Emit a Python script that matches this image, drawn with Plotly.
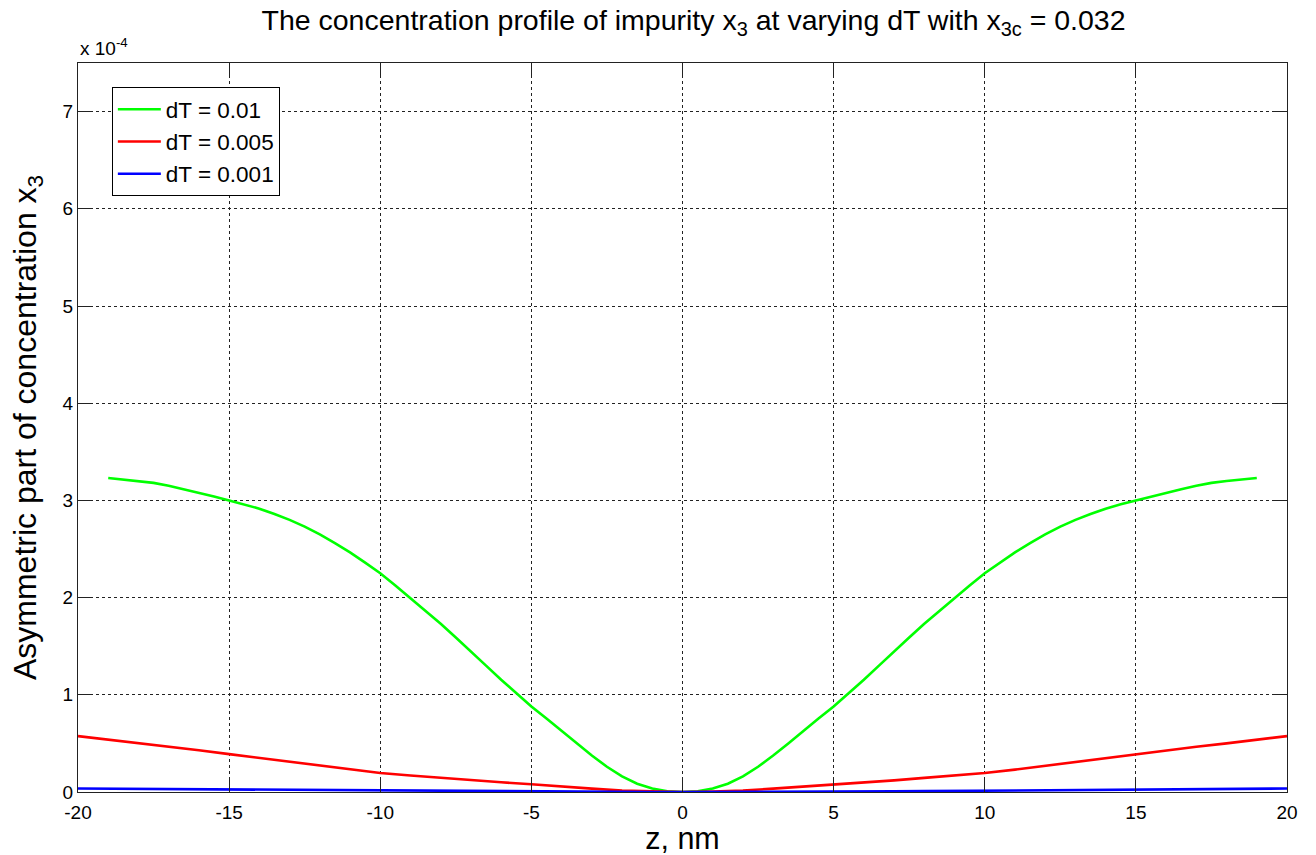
import plotly.graph_objects as go

# Positions along the film, nm (finer sampling for the dT = 0.01 profile)
z_green = [-19, -18.5, -18, -17.5, -17, -16.5, -16, -15.5, -15, -14.5, -14, -13.5, -13, -12.5,
           -12, -11.5, -11, -10.5, -10, -9.5, -9, -8.5, -8, -7.5, -7, -6.5, -6, -5.5, -5, -4.5,
           -4, -3.5, -3, -2.5, -2, -1.5, -1, -0.5, 0, 0.5, 1, 1.5, 2, 2.5, 3, 3.5, 4, 4.5, 5,
           5.5, 6, 6.5, 7, 7.5, 8, 8.5, 9, 9.5, 10, 10.5, 11, 11.5, 12, 12.5, 13, 13.5, 14, 14.5,
           15, 15.5, 16, 16.5, 17, 17.5, 18, 18.5, 19]
z_full = [-20, -19, -18, -17, -16, -15, -14, -13, -12, -11, -10, -9, -8, -7, -6, -5, -4, -3, -2, -1,
          0, 1, 2, 3, 4, 5, 6, 7, 8, 9, 10, 11, 12, 13, 14, 15, 16, 17, 18, 19, 20]

# Asymmetric part of x3 concentration, in units of 1e-4
x3_dT_001 = [3.23, 3.215, 3.20, 3.18, 3.15, 3.115, 3.08, 3.04, 3.00, 2.96, 2.915, 2.86, 2.80, 2.73,
             2.65, 2.56, 2.465, 2.36, 2.25, 2.125, 1.995, 1.865, 1.73, 1.59, 1.45, 1.30, 1.155,
             1.015, 0.88, 0.755, 0.63, 0.50, 0.375, 0.26, 0.16, 0.085, 0.035, 0.008, 0.0, 0.008,
             0.035, 0.085, 0.16, 0.26, 0.375, 0.50, 0.63, 0.755, 0.88, 1.015, 1.155, 1.30, 1.45,
             1.59, 1.73, 1.865, 1.995, 2.125, 2.25, 2.36, 2.465, 2.56, 2.65, 2.73, 2.80, 2.86,
             2.915, 2.96, 3.00, 3.04, 3.08, 3.115, 3.15, 3.18, 3.20, 3.215, 3.23]
x3_dT_0005 = [0.575, 0.54, 0.50, 0.465, 0.43, 0.39, 0.35, 0.31, 0.27, 0.23, 0.195, 0.17, 0.145, 0.12,
              0.10, 0.08, 0.055, 0.035, 0.015, 0.005, 0.0, 0.005, 0.015, 0.035, 0.055, 0.08, 0.10,
              0.12, 0.145, 0.17, 0.195, 0.23, 0.27, 0.31, 0.35, 0.39, 0.43, 0.465, 0.50, 0.54, 0.575]
x3_dT_0001 = [0.036, 0.034, 0.031, 0.028, 0.026, 0.024, 0.021, 0.019, 0.017, 0.015, 0.013, 0.011,
              0.009, 0.007, 0.006, 0.004, 0.003, 0.002, 0.001, 0.0, 0.0, 0.0, 0.001, 0.002, 0.003,
              0.004, 0.006, 0.007, 0.009, 0.011, 0.013, 0.015, 0.017, 0.019, 0.021, 0.024, 0.026,
              0.028, 0.031, 0.034, 0.036]

x_ticks = [-20, -15, -10, -5, 0, 5, 10, 15, 20]
y_ticks = [0, 1, 2, 3, 4, 5, 6, 7]

FONT = "Liberation Sans, Arial, sans-serif"

fig = go.Figure()
fig.add_trace(go.Scatter(x=z_green, y=x3_dT_001, mode="lines", name="dT = 0.01",
                         line=dict(color="#00ff00", width=2.6)))
fig.add_trace(go.Scatter(x=z_full, y=x3_dT_0005, mode="lines", name="dT = 0.005",
                         line=dict(color="#ff0000", width=2.6)))
fig.add_trace(go.Scatter(x=z_full, y=x3_dT_0001, mode="lines", name="dT = 0.001",
                         line=dict(color="#0000ff", width=2.6)))

axis_common = dict(
    showline=True, linecolor="#222", linewidth=1, mirror="ticks",
    ticks="inside", ticklen=12, tickcolor="#222", tickwidth=1,
    showgrid=True, gridcolor="#222", gridwidth=1, griddash="3px,3px",
    zeroline=False, automargin=False,
    tickfont=dict(family=FONT, size=19, color="black"),
)

fig.update_layout(
    width=1316, height=855,
    margin=dict(l=78, r=29, t=63, b=63),
    paper_bgcolor="white", plot_bgcolor="white",
    font=dict(family=FONT, color="black"),
    title=dict(
        text="The concentration profile of impurity x<sub>3</sub> at varying dT with x<sub>3c</sub> = 0.032",
        x=0.527, xanchor="center", y=0.988, yanchor="top",
        font=dict(family=FONT, size=28.5, color="black"),
    ),
    xaxis=dict(range=[-20, 20], tickvals=x_ticks, ticktext=[str(v) for v in x_ticks],
               ticklabelstandoff=3,
               title=dict(text="z, nm", font=dict(family=FONT, size=30.5), standoff=4),
               **axis_common),
    yaxis=dict(range=[0, 7.5], tickvals=y_ticks, ticktext=[str(v) for v in y_ticks],
               title=dict(text="Asymmetric part of concentration x<sub>3</sub>",
                          font=dict(family=FONT, size=32), standoff=16),
               **axis_common),
    legend=dict(x=0.028, y=0.967, xanchor="left", yanchor="top",
                bgcolor="white", bordercolor="black", borderwidth=1,
                font=dict(family=FONT, size=22.5, color="black"),
                itemwidth=43, tracegroupgap=0),
    showlegend=True,
)

fig.add_annotation(text="x 10<sup>-4</sup>", xref="paper", yref="paper", x=0, y=1,
                   xanchor="left", yanchor="bottom", showarrow=False, yshift=2,
                   font=dict(family=FONT, size=19, color="black"))

fig.write_html("out.html")
